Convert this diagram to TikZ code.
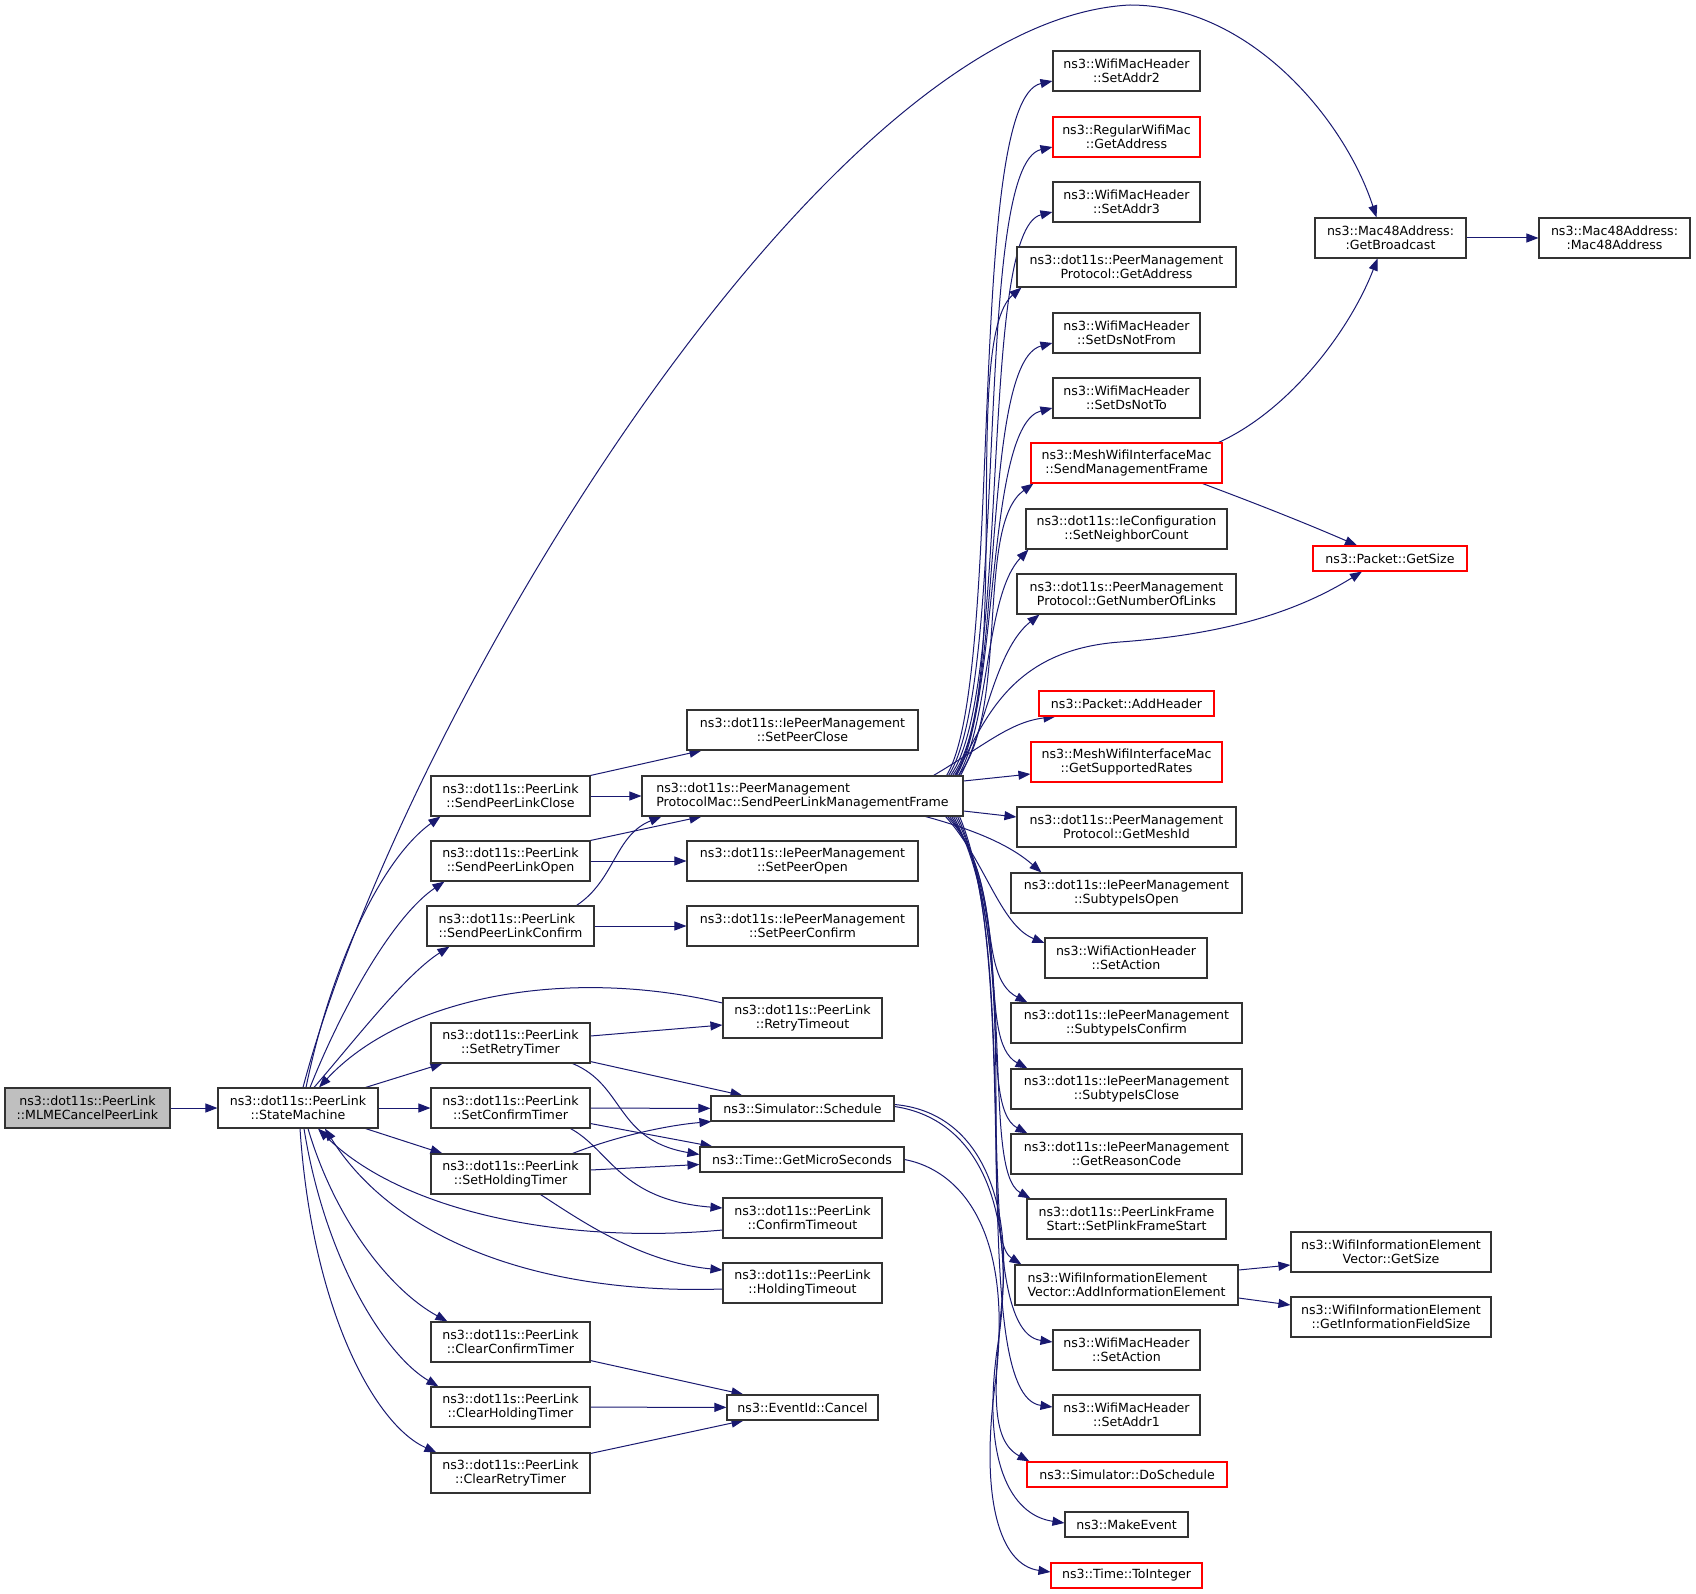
\documentclass[tikz,border=0pt]{standalone}
\usepackage{fontspec}
\setmainfont{DejaVu Sans}
\usetikzlibrary{arrows.meta,calc}
\definecolor{mblue}{RGB}{25,25,112}
\definecolor{boxgray}{RGB}{191,191,191}
\pgfdeclarelayer{bg}
\pgfsetlayers{bg,main}
\tikzset{
  nbox/.style={draw=black!80, line width=1.1pt, fill=white, inner sep=0pt, minimum height=40pt,
    align=center, font=\fontsize{12.6}{14.5}\selectfont, text=black},
  rbox/.style={nbox, draw=red},
  sbox/.style={minimum height=25pt},
  call/.style={draw=mblue, line width=1pt, -{Triangle[length=12pt,width=9pt]}},
}
\begin{document}
\begin{tikzpicture}[x=1pt,y=-1pt]
\useasboundingbox (0,0) rectangle (1696,1594);
% left columns
\node[nbox,minimum width=165pt,fill=boxgray] (mlme) at (87.5,1108) {ns3::dot11s::PeerLink\\::MLMECancelPeerLink};
\node[nbox,minimum width=160pt] (sm) at (298,1108) {ns3::dot11s::PeerLink\\::StateMachine};
\node[nbox,minimum width=159pt] (splc) at (510.5,796) {ns3::dot11s::PeerLink\\::SendPeerLinkClose};
\node[nbox,minimum width=159pt] (splo) at (510.5,861) {ns3::dot11s::PeerLink\\::SendPeerLinkOpen};
\node[nbox,minimum width=167pt,align=left] (splcf) at (510.5,926) {ns3::dot11s::PeerLink\\::SendPeerLinkConfirm};
\node[nbox,minimum width=159pt] (srt) at (510.5,1043) {ns3::dot11s::PeerLink\\::SetRetryTimer};
\node[nbox,minimum width=159pt] (sct) at (510.5,1108) {ns3::dot11s::PeerLink\\::SetConfirmTimer};
\node[nbox,minimum width=159pt] (sht) at (510.5,1174) {ns3::dot11s::PeerLink\\::SetHoldingTimer};
\node[nbox,minimum width=159pt] (cct) at (510.5,1342) {ns3::dot11s::PeerLink\\::ClearConfirmTimer};
\node[nbox,minimum width=159pt] (cht) at (510.5,1407) {ns3::dot11s::PeerLink\\::ClearHoldingTimer};
\node[nbox,minimum width=159pt] (crt) at (510.5,1473) {ns3::dot11s::PeerLink\\::ClearRetryTimer};
% middle column
\node[nbox,minimum width=231pt] (spc) at (802.5,730) {ns3::dot11s::IePeerManagement\\::SetPeerClose};
\node[nbox,minimum width=321pt,align=left] (splmf) at (802.5,796) {ns3::dot11s::PeerManagement\\ProtocolMac::SendPeerLinkManagementFrame};
\node[nbox,minimum width=231pt] (spo) at (802.5,861) {ns3::dot11s::IePeerManagement\\::SetPeerOpen};
\node[nbox,minimum width=231pt] (spcf) at (802.5,926) {ns3::dot11s::IePeerManagement\\::SetPeerConfirm};
\node[nbox,minimum width=159pt] (rto) at (802.5,1018) {ns3::dot11s::PeerLink\\::RetryTimeout};
\node[nbox,sbox,minimum width=183pt] (sch) at (802.5,1108.5) {ns3::Simulator::Schedule};
\node[nbox,sbox,minimum width=204pt] (gms) at (802,1159.5) {ns3::Time::GetMicroSeconds};
\node[nbox,minimum width=159pt] (cto) at (802.5,1218) {ns3::dot11s::PeerLink\\::ConfirmTimeout};
\node[nbox,minimum width=159pt] (hto) at (802.5,1283) {ns3::dot11s::PeerLink\\::HoldingTimeout};
\node[nbox,sbox,minimum width=151pt] (cancel) at (802.5,1407.5) {ns3::EventId::Cancel};
% right column
\node[nbox,minimum width=147pt] (sa2) at (1126.5,71) {ns3::WifiMacHeader\\::SetAddr2};
\node[rbox,minimum width=147pt] (rga) at (1126.5,137) {ns3::RegularWifiMac\\::GetAddress};
\node[nbox,minimum width=147pt] (sa3) at (1126.5,202) {ns3::WifiMacHeader\\::SetAddr3};
\node[nbox,minimum width=219pt] (pga) at (1126.5,267) {ns3::dot11s::PeerManagement\\Protocol::GetAddress};
\node[nbox,minimum width=147pt] (sdf) at (1126.5,333) {ns3::WifiMacHeader\\::SetDsNotFrom};
\node[nbox,minimum width=147pt] (sdt) at (1126.5,398) {ns3::WifiMacHeader\\::SetDsNotTo};
\node[rbox,minimum width=191pt] (smf) at (1126.5,463) {ns3::MeshWifiInterfaceMac\\::SendManagementFrame};
\node[nbox,minimum width=201pt] (snc) at (1126.5,529) {ns3::dot11s::IeConfiguration\\::SetNeighborCount};
\node[nbox,minimum width=219pt] (gnl) at (1126.5,594) {ns3::dot11s::PeerManagement\\Protocol::GetNumberOfLinks};
\node[rbox,sbox,minimum width=175pt] (ah) at (1126.5,703.5) {ns3::Packet::AddHeader};
\node[rbox,minimum width=191pt] (gsr) at (1126.5,762) {ns3::MeshWifiInterfaceMac\\::GetSupportedRates};
\node[nbox,minimum width=219pt] (gmi) at (1126.5,827) {ns3::dot11s::PeerManagement\\Protocol::GetMeshId};
\node[nbox,minimum width=231pt] (sio) at (1126.5,893) {ns3::dot11s::IePeerManagement\\::SubtypeIsOpen};
\node[nbox,minimum width=162pt] (wsa) at (1126,958) {ns3::WifiActionHeader\\::SetAction};
\node[nbox,minimum width=231pt] (sic) at (1126.5,1023) {ns3::dot11s::IePeerManagement\\::SubtypeIsConfirm};
\node[nbox,minimum width=231pt] (sicl) at (1126.5,1089) {ns3::dot11s::IePeerManagement\\::SubtypeIsClose};
\node[nbox,minimum width=231pt] (grc) at (1126.5,1154) {ns3::dot11s::IePeerManagement\\::GetReasonCode};
\node[nbox,minimum width=199pt] (spfs) at (1126.5,1219) {ns3::dot11s::PeerLinkFrame\\Start::SetPlinkFrameStart};
\node[nbox,minimum width=223pt,align=left] (aie) at (1126.5,1285) {ns3::WifiInformationElement\\Vector::AddInformationElement};
\node[nbox,minimum width=147pt] (msa) at (1126.5,1350) {ns3::WifiMacHeader\\::SetAction};
\node[nbox,minimum width=147pt] (sa1) at (1126.5,1415) {ns3::WifiMacHeader\\::SetAddr1};
\node[rbox,sbox,minimum width=200pt] (dos) at (1127,1474.5) {ns3::Simulator::DoSchedule};
\node[nbox,sbox,minimum width=123pt] (mke) at (1126.5,1524.5) {ns3::MakeEvent};
\node[rbox,sbox,minimum width=151pt] (toi) at (1126.5,1575.5) {ns3::Time::ToInteger};
% far right
\node[nbox,minimum width=151pt] (gbc) at (1390.5,238) {ns3::Mac48Address:\\:GetBroadcast};
\node[nbox,minimum width=151pt] (m48) at (1614.5,238) {ns3::Mac48Address:\\:Mac48Address};
\node[rbox,sbox,minimum width=154pt] (gsz) at (1390,558.5) {ns3::Packet::GetSize};
\node[nbox,minimum width=200pt] (ievgs) at (1391,1252) {ns3::WifiInformationElement\\Vector::GetSize};
\node[nbox,minimum width=200pt] (gifs) at (1391,1317) {ns3::WifiInformationElement\\::GetInformationFieldSize};

\begin{pgfonlayer}{bg}
\draw[call] (mlme) -- (sm);
\draw[call] ($(sm.north)+(5,0)$) .. controls (400,720) and (820,20) .. (1130,5) .. controls (1250,5) and (1345,120) .. ($(gbc.north)+(-14,0)$);
\draw[call] ($(sm.north)+(8,0)$) .. controls (330,970) and (380,860) .. ($(splc.south west)+(10,0)$);
\draw[call] ($(sm.north)+(12,0)$) .. controls (345,1000) and (395,915) .. ($(splo.south west)+(14,0)$);
\draw[call] ($(sm.north)+(16,0)$) .. controls (355,1040) and (405,975) .. ($(splcf.south west)+(23,0)$);
\draw[call] ($(rto.west)+(0,-15)$) .. controls (560,965) and (400,1000) .. ($(sm.north)+(21,0)$);
\draw[call] ($(sm.north east)+(-13,0)$) -- ($(srt.south west)+(12,0)$);
\draw[call] (sm) -- (sct);
\draw[call] ($(sm.south east)+(-13,0)$) -- ($(sht.north west)+(12,0)$);
\draw[call] ($(cto.west)+(0,12)$) .. controls (560,1245) and (400,1210) .. ($(sm.south)+(20,0)$);
\draw[call] ($(hto.west)+(0,6)$) .. controls (540,1295) and (395,1240) .. ($(sm.south)+(27,0)$);
\draw[call] ($(sm.south)+(10,0)$) .. controls (335,1220) and (390,1290) .. ($(cct.north west)+(17,0)$);
\draw[call] ($(sm.south)+(6,0)$) .. controls (325,1260) and (385,1355) .. ($(cht.north west)+(8,0)$);
\draw[call] ($(sm.south)+(2,0)$) .. controls (312,1310) and (375,1425) .. ($(crt.north west)+(6,0)$);

\draw[call] (splc.north east) -- ($(spc.south west)+(15,0)$);
\draw[call] (splc) -- (splmf);
\draw[call] (splo.north east) -- ($(splmf.south west)+(60,0)$);
\draw[call] (splo) -- (spo);
\draw[call] ($(splcf.north)+(66,0)$) .. controls (615,880) and (615,835) .. ($(splmf.south west)+(20,0)$);
\draw[call] (splcf) -- (spcf);

\draw[call] ($(srt.east)+(0,-7)$) -- ($(rto.west)+(0,7)$);
\draw[call] ($(srt.south east)+(0,-2)$) -- ($(sch.north west)+(32,0)$);
\draw[call] ($(srt.south east)+(-18,0)$) .. controls (625,1085) and (615,1140) .. ($(gms.west)+(0,-5)$);
\draw[call] (sct) -- (sch);
\draw[call] ($(sct.south east)+(0,-5)$) -- ($(gms.north west)+(13,0)$);
\draw[call] ($(sct.south east)+(-20,0)$) .. controls (610,1150) and (620,1200) .. ($(cto.west)+(0,-10)$);
\draw[call] ($(sht.north east)+(-18,0)$) .. controls (620,1135) and (670,1125) .. ($(sch.south west)+(1,0)$);
\draw[call] ($(sht.east)+(0,-4)$) -- ($(gms.west)+(0,5)$);
\draw[call] ($(sht.south east)+(-50,0)$) .. controls (580,1220) and (640,1262) .. ($(hto.west)+(0,-13)$);
\draw[call] ($(cct.south east)+(0,-2)$) -- ($(cancel.north west)+(17,0)$);
\draw[call] (cht) -- (cancel);
\draw[call] ($(crt.north east)+(0,1)$) -- ($(cancel.south west)+(17,0)$);

% bundle upwards
\draw[call] ($(splmf.north east)+(-17,0)$) .. controls (1005,680) and (965,100) .. ($(sa2.west)+(0,10)$);
\draw[call] ($(splmf.north east)+(-15,0)$) .. controls (1010,680) and (972,165) .. ($(rga.west)+(0,10)$);
\draw[call] ($(splmf.north east)+(-13,0)$) .. controls (1012,690) and (978,230) .. ($(sa3.west)+(0,10)$);
\draw[call] ($(splmf.north east)+(-11,0)$) .. controls (1015,690) and (960,340) .. ($(pga.south west)+(5,0)$);
\draw[call] ($(splmf.north east)+(-9,0)$) .. controls (1005,700) and (980,362) .. ($(sdf.west)+(0,10)$);
\draw[call] ($(splmf.north east)+(-7,0)$) .. controls (1000,700) and (985,425) .. ($(sdt.west)+(0,10)$);
\draw[call] ($(splmf.north east)+(-5,0)$) .. controls (1010,710) and (975,525) .. ($(smf.south west)+(3,0)$);
\draw[call] ($(splmf.north east)+(-5,0)$) .. controls (990,720) and (985,595) .. ($(snc.south west)+(3,0)$);
\draw[call] ($(splmf.north east)+(-3,0)$) .. controls (985,730) and (995,650) .. ($(gnl.south west)+(23,0)$);
\draw[call] ($(splmf.north east)+(-8,0)$) .. controls (985,720) and (1010,650) .. (1120,642) .. controls (1230,634) and (1300,610) .. ($(gsz.south)+(-28,0)$);
\draw[call] ($(splmf.north east)+(-30,0)$) .. controls (985,745) and (1010,722) .. ($(ah.south west)+(17,0)$);
% bundle downwards
\draw[call] ($(splmf.east)+(0,-15)$) -- ($(gsr.west)+(0,12)$);
\draw[call] ($(splmf.east)+(0,15)$) -- ($(gmi.west)+(0,-10)$);
\draw[call] ($(splmf.south east)+(-38,0)$) .. controls (975,830) and (1010,845) .. ($(sio.north west)+(31,0)$);
\draw[call] ($(splmf.south east)+(-18,0)$) .. controls (985,860) and (1000,925) .. ($(wsa.west)+(0,-15)$);
\draw[call] ($(splmf.south east)+(-16,0)$) .. controls (1005,880) and (975,975) .. ($(sic.north west)+(17,0)$);
\draw[call] ($(splmf.south east)+(-14,0)$) .. controls (1015,900) and (975,1040) .. ($(sicl.north west)+(17,0)$);
\draw[call] ($(splmf.south east)+(-12,0)$) .. controls (1020,920) and (975,1105) .. ($(grc.north west)+(17,0)$);
\draw[call] ($(splmf.south east)+(-10,0)$) .. controls (1020,940) and (980,1170) .. ($(spfs.north west)+(4,0)$);
\draw[call] ($(splmf.south east)+(-8,0)$) .. controls (1025,950) and (975,1235) .. ($(aie.north west)+(7,0)$);
\draw[call] ($(splmf.south east)+(-6,0)$) .. controls (1025,960) and (965,1330) .. ($(msa.west)+(0,-8)$);
\draw[call] ($(splmf.south east)+(-4,0)$) .. controls (1025,970) and (965,1395) .. ($(sa1.west)+(0,-8)$);

\draw[call] ($(sch.east)+(0,-4)$) .. controls (980,1112) and (1012,1200) .. (1002,1300) .. controls (994,1390) and (990,1440) .. ($(dos.north west)+(3,0)$);
\draw[call] ($(sch.east)+(0,-2)$) .. controls (985,1120) and (1018,1220) .. (997,1350) .. controls (982,1460) and (1010,1515) .. ($(mke.west)+(0,-1.5)$);
\draw[call] (gms.east) .. controls (960,1170) and (1015,1230) .. (995,1385) .. controls (980,1500) and (1000,1565) .. ($(toi.west)+(0,-3.5)$);

\draw[call] ($(smf.north east)+(-4,0)$) .. controls (1290,410) and (1350,330) .. ($(gbc.south)+(-13,0)$);
\draw[call] ($(smf.south east)+(-20,0)$) .. controls (1260,505) and (1310,525) .. ($(gsz.north)+(-33,0)$);
\draw[call] (gbc) -- (m48);
\draw[call] ($(aie.east)+(0,-15)$) -- ($(ievgs.west)+(0,13)$);
\draw[call] ($(aie.east)+(0,13)$) -- ($(gifs.west)+(0,-12)$);
\end{pgfonlayer}
\end{tikzpicture}
\end{document}
